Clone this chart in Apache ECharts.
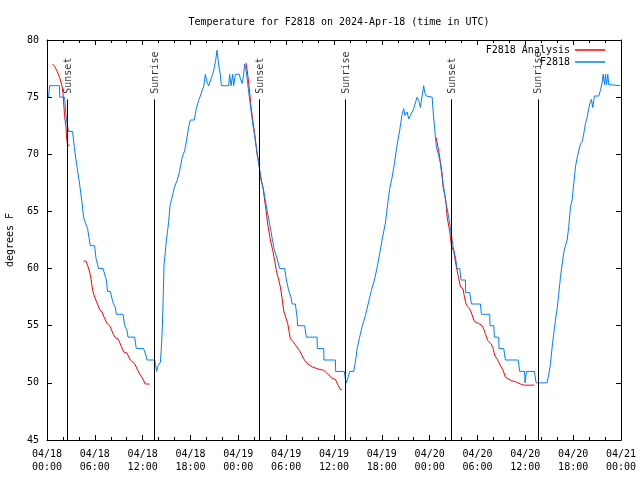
<!DOCTYPE html>
<html>
<head>
<meta charset="utf-8">
<script src="https://cdn.jsdelivr.net/npm/echarts@6/dist/echarts.min.js"></script>
<style>html,body{margin:0;padding:0;background:#fff}#c{width:640px;height:480px}</style>
</head>
<body>
<div id="c"></div>
<script>
// hours since 2024-04-18 00:00 UTC
const blueHours = [0.20,0.33,1.58,1.59,2.21,2.36,2.51,2.71,3.21,3.43,3.76,4.09,4.39,4.59,4.81,5.09,5.43,5.97,6.15,6.47,7.03,7.44,7.60,7.94,8.28,8.57,8.70,9.54,9.74,10.04,10.16,10.99,11.20,12.12,12.42,12.55,13.50,13.63,13.75,13.93,14.22,14.34,14.47,14.59,14.68,14.84,14.97,15.13,15.26,15.43,15.68,15.97,16.31,16.60,16.94,17.26,17.48,17.77,17.98,18.48,18.73,19.02,19.23,19.52,19.65,19.86,20.08,20.28,20.49,20.62,20.78,20.99,21.15,21.33,21.53,21.74,21.87,22.79,22.91,23.09,23.29,23.41,23.63,24.13,24.25,24.47,24.67,24.79,25.01,25.17,25.38,25.60,25.80,26.01,26.26,26.42,26.68,26.98,27.18,27.60,27.93,28.23,28.52,28.86,29.18,29.81,30.03,30.31,30.61,30.74,31.15,31.37,31.44,32.32,32.53,33.88,33.91,34.71,34.74,36.17,36.21,37.30,37.43,37.55,37.68,37.77,37.97,38.47,38.68,38.90,39.22,39.52,39.94,40.35,40.69,41.07,41.41,41.73,42.03,42.45,42.74,42.99,43.29,43.58,43.91,44.24,44.54,44.74,44.89,45.17,45.37,45.58,46.00,46.42,46.62,46.84,47.05,47.25,47.38,47.59,48.31,48.43,48.72,48.85,49.13,49.35,49.56,49.76,50.06,50.31,50.60,50.94,51.23,51.44,51.77,51.94,52.48,52.52,53.02,53.24,54.37,54.49,55.53,55.57,56.04,56.12,56.66,56.70,57.29,57.50,59.10,59.30,59.89,59.97,60.14,61.14,61.35,62.73,62.93,63.14,63.36,63.56,63.78,63.99,64.19,64.40,64.62,64.82,65.03,65.24,65.44,65.66,65.87,66.07,66.29,66.50,66.70,66.91,67.13,67.33,67.54,67.75,67.95,68.17,68.29,68.46,68.67,69.21,69.42,69.64,69.76,69.93,70.05,70.18,70.34,70.46,70.59,71.93];
const blueTemps = [75,76,76,75,75,73.6,72.7,72,72,70.6,68.9,67.4,65.8,64.5,64,63.5,62,62,60.9,60,60,59,58,58,57,56.6,56,56,55,54.6,54,54,53,53,52.4,52,52,51.5,51,51.5,51.8,53,54.9,57.9,60.4,61.4,62.5,63.3,64.1,65.5,66.2,67.1,67.7,68.4,69.7,70.3,71.1,72.4,73,73,74,74.7,75.1,75.7,75.9,77,76.3,76,76,76.7,77,77.6,78.2,79.1,77.8,77,76,76,77,76,77,76,77,77,76.6,76.2,77,77.9,77.2,76.2,75,73.8,72.7,71.8,70.6,69.9,68.6,67.4,66.8,65.1,63.9,62.7,61.6,60.9,60,60,59,58.1,57.5,56.9,56.9,55.75,55,55,54,54,53,53,52,52,51,51,50.3,50,50,50.5,51,51,51.8,53,54,54.9,55.9,57.1,58.1,59,60.1,61.3,62.5,64,65.7,67,68,69.2,70.8,72.1,73.5,74,73.4,73.7,73.1,73.4,74,75,74.7,74.1,75.1,76,75.4,75.1,75,73.8,71.5,70.6,69.9,69.2,68,67.1,65.7,64.8,63.6,61.9,61,60,60,59,59,57.9,57.9,56.9,56.9,56,56,55,55,54,54,53,53,52,52,51,51,50,51,51,50,50,50.7,51.6,53.1,54.3,55.5,56.5,57.8,59.2,60.4,61.4,62,62.5,63.6,65.4,66,67.4,68.9,69.7,70.3,70.9,71.1,71.8,72.7,73.2,74,74.6,74.8,74.1,75.1,75.1,75.6,76.3,77,76.1,77,76.1,77,76.1,76,76];

const redHours = [0.70,0.95,1.25,1.54,1.79,1.88,2.01,2.08,2.21,2.38,2.46,2.58,2.84,3.5,
  4.59,4.89,5.09,5.35,5.52,5.72,5.93,6.27,6.60,6.90,7.19,7.53,7.94,8.28,8.57,8.91,9.20,9.61,10.04,10.45,10.99,11.37,11.71,12.05,12.33,12.87,18,
  24.97,25.17,25.38,25.60,25.80,26.05,26.35,26.64,26.76,27.10,27.26,27.48,27.68,28.02,28.31,28.56,28.77,28.98,29.27,29.49,29.69,29.90,30.19,30.53,30.87,31.28,31.69,32.20,32.62,33.25,34.08,34.71,35.04,35.46,35.76,36.17,36.51,36.80,37.01,42,
  48.81,49.01,49.13,49.35,49.56,49.69,49.89,50.06,50.19,50.51,50.73,51.02,51.36,51.65,51.86,52.20,52.36,52.61,52.90,53.20,53.53,53.74,54.15,54.58,54.78,54.99,55.28,55.71,55.96,56.16,56.46,56.66,56.96,57.21,57.50,57.72,58.22,58.76,59.39,59.80,61.14];
const redTemps = [77.9,77.7,77.3,76.8,76.8,76.0,75.3,74.6,73.3,72.4,71.4,70.8,70.8,null,
  60.65,60.65,60.3,59.7,59.1,58.1,57.6,57.0,56.4,56.2,55.7,55.2,54.9,54.3,53.95,53.85,53.4,52.7,52.6,52.0,51.7,51.1,50.7,50.3,49.9,49.9,null,
  78.0,77.0,75.7,74.1,73.0,71.8,70.0,68.9,68.0,67.1,66.2,65.1,63.9,62.5,61.6,60.7,59.8,59.25,58.4,57.4,56.3,56.2,55.2,53.85,53.6,53.2,52.8,52.1,51.7,51.4,51.2,51.1,50.9,50.6,50.4,50.3,49.8,49.4,49.4,null,
  71.45,71.4,70.3,69.3,68.3,67.1,66.5,65.7,64.5,63.3,62.0,61.5,60.1,59.1,58.4,58.2,57.5,56.8,56.6,56.2,55.5,55.3,55.2,55.0,54.7,54.3,53.7,53.4,53.0,52.4,52.1,51.8,51.4,51.1,50.5,50.4,50.2,50.1,49.9,49.8,49.8];

const eventHours = [2.58, 13.50, 26.67, 37.47, 50.77, 61.56];
const eventNames = ['Sunset', 'Sunrise', 'Sunset', 'Sunrise', 'Sunset', 'Sunrise'];

const xTickLabels = ['04/18\n00:00','04/18\n06:00','04/18\n12:00','04/18\n18:00','04/19\n00:00','04/19\n06:00','04/19\n12:00','04/19\n18:00','04/20\n00:00','04/20\n06:00','04/20\n12:00','04/20\n18:00','04/21\n00:00'];

const FONT = 'DejaVu Sans Mono';
const blueData = blueHours.map((h, i) => [h, blueTemps[i]]);
const redData = redHours.map((h, i) => [h, redTemps[i]]);
const eventLineTop = 74.8, eventLabelY = 75.3;

const chart = echarts.init(document.getElementById('c'), null, {renderer: 'canvas'});
const axisCommon = {
  axisLine: {show: true, onZero: false, lineStyle: {color: '#000', width: 1}},
  splitLine: {show: false}
};
const legendText = {fontFamily: FONT, fontSize: 10, color: '#000'};
chart.setOption({
  animation: false,
  backgroundColor: '#fff',
  title: {
    text: 'Temperature for F2818 on 2024-Apr-18 (time in UTC)',
    left: 334, top: 12, textAlign: 'center',
    textStyle: {fontFamily: FONT, fontSize: 10, fontWeight: 'normal', color: '#000'}
  },
  legend: [
    {data: ['F2818 Analysis'], right: 30, top: 40, align: 'right', icon: 'rect', itemWidth: 30, itemHeight: 1.5,
     textStyle: legendText},
    {data: ['F2818'], right: 30, top: 52, align: 'right', icon: 'rect', itemWidth: 30, itemHeight: 1.5,
     textStyle: legendText}
  ],
  grid: {left: 47, right: 19, top: 40, bottom: 40, containLabel: false, outerBoundsMode: 'none'},
  xAxis: [
    Object.assign({
      type: 'value', min: 0, max: 72, interval: 6, position: 'bottom',
      axisTick: {show: true, inside: true, length: 5, lineStyle: {color: '#000'}},
      minorTick: {show: true, splitNumber: 3, length: 3, lineStyle: {color: '#000'}},
      axisLabel: {fontFamily: FONT, fontSize: 10, color: '#000', margin: 8, lineHeight: 13,
        formatter: v => xTickLabels[Math.round(v / 6)]}
    }, axisCommon),
    Object.assign({
      type: 'value', min: 0, max: 72, interval: 6, position: 'top',
      axisTick: {show: true, inside: true, length: 5, lineStyle: {color: '#000'}},
      minorTick: {show: true, splitNumber: 3, length: 3, lineStyle: {color: '#000'}},
      axisLabel: {show: false}
    }, axisCommon)
  ],
  yAxis: [
    Object.assign({
      type: 'value', min: 45, max: 80, interval: 5, position: 'left',
      name: 'degrees F', nameLocation: 'middle', nameGap: 32, nameRotate: 90,
      nameTextStyle: {fontFamily: FONT, fontSize: 10, color: '#000'},
      axisTick: {show: true, inside: true, length: 5, lineStyle: {color: '#000'}},
      axisLabel: {fontFamily: FONT, fontSize: 10, color: '#000', margin: 8}
    }, axisCommon),
    Object.assign({
      type: 'value', min: 45, max: 80, interval: 5, position: 'right',
      axisTick: {show: true, inside: true, length: 5, lineStyle: {color: '#000'}},
      axisLabel: {show: false}
    }, axisCommon)
  ],
  series: [
    {
      name: 'events', type: 'scatter', symbolSize: 0, silent: true,
      data: eventHours.map(h => [h, eventLabelY]),
      label: {show: true, position: 'inside', rotate: 90, align: 'left', verticalAlign: 'middle',
        formatter: p => eventNames[p.dataIndex],
        fontFamily: FONT, fontSize: 10, color: '#000', offset: [0, 1]},
      markLine: {
        silent: true, symbol: ['none', 'none'], animation: false,
        label: {show: false},
        lineStyle: {color: '#000', width: 1, type: 'solid'},
        data: eventHours.map(h => [{coord: [h, 45]}, {coord: [h, eventLineTop]}])
      },
      z: 1
    },
    {
      name: 'F2818 Analysis', type: 'line', data: redData, symbol: 'none',
      connectNulls: false,
      lineStyle: {color: '#ff0000', width: 1}, itemStyle: {color: '#ff0000'}, z: 2
    },
    {
      name: 'F2818', type: 'line', data: blueData, symbol: 'none',
      lineStyle: {color: '#0080ff', width: 1}, itemStyle: {color: '#0080ff'}, z: 3
    }
  ]
});
</script>
</body>
</html>
